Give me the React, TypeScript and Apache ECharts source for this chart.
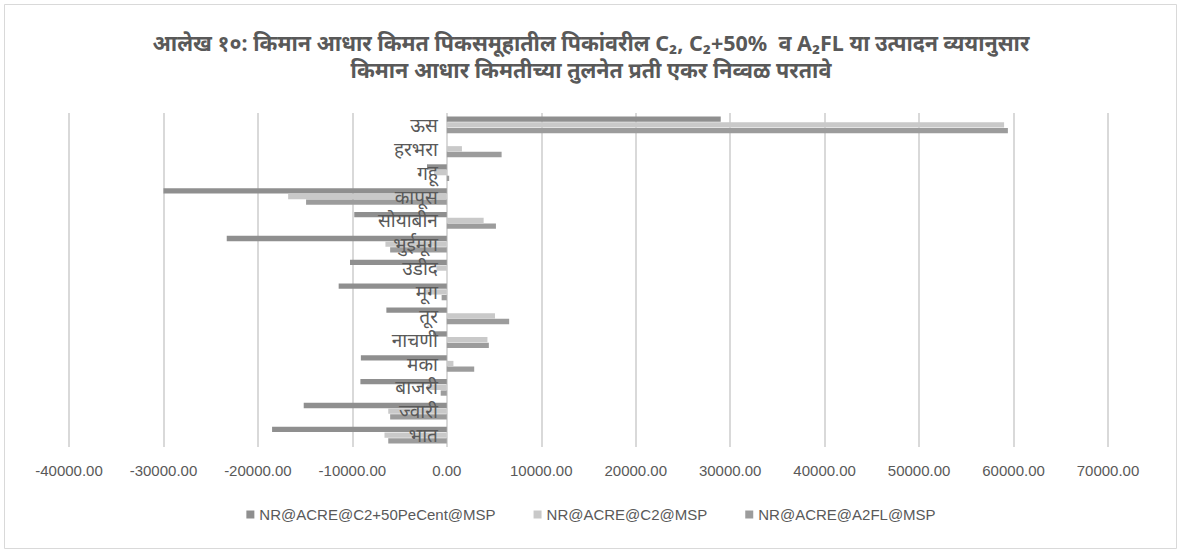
import React, { useEffect, useRef } from "react";
import * as echarts from "echarts";

const categories = ["भात", "ज्वारी", "बाजरी", "मका", "नाचणी", "तूर", "मूग", "उडीद", "भुईमूग", "सोयाबीन", "कापूस", "गहू", "हरभरा", "ऊस"];
const seriesNames = ["NR@ACRE@C2+50PeCent@MSP", "NR@ACRE@C2@MSP", "NR@ACRE@A2FL@MSP"];
const nrC2Plus50 = [-18500, -15150, -9150, -9100, -1450, -6400, -11450, -10250, -23300, -9800, -30000, -2100, 0, 29000];
const nrC2 = [-6600, -6200, -2050, 700, 4300, 5100, -2300, -1100, -6500, 3900, -16800, -1350, 1600, 59000];
const nrA2FL = [-6200, -6000, -650, 2900, 4450, 6600, -550, 0, -6000, 5200, -14900, 250, 5800, 59400];
const xTicks = { min: -40000, max: 70000, interval: 10000 };
const titleLines = [
  "आलेख १०: किमान आधार किमत पिकसमूहातील पिकांवरील C₂, C₂+50%  व A₂FL या उत्पादन व्ययानुसार",
  "किमान आधार किमतीच्या तुलनेत प्रती एकर निव्वळ परतावे",
];
const colors = ["#8f8f8f", "#c9c9c9", "#9c9c9c"];
const GRID_LEFT = 69;

export default function App() {
  const ref = useRef<HTMLDivElement>(null);
  useEffect(() => {
    if (!ref.current) return;
    const chart = echarts.init(ref.current, null, { renderer: "svg" });
    const dataSets = [nrC2Plus50, nrC2, nrA2FL];
    chart.setOption({
      animation: false,
      backgroundColor: "#ffffff",
      color: colors,
      title: {
        text: titleLines.join("\n"),
        left: "center",
        top: 24,
        textStyle: {
          fontFamily: "'Noto Sans', sans-serif",
          fontSize: 21.5,
          fontWeight: "bold",
          color: "#595959",
          lineHeight: 27,
        },
      },
      graphic: [
        {
          type: "rect",
          shape: { x: 4.5, y: 4.5, width: 1172, height: 544 },
          style: { fill: "none", stroke: "#d9d9d9", lineWidth: 1 },
          silent: true,
        },
      ],
      legend: {
        bottom: 28,
        left: "center",
        itemWidth: 8,
        itemHeight: 8,
        itemGap: 38,
        icon: "rect",
        textStyle: { color: "#595959", fontSize: 15, fontFamily: "'Liberation Sans Narrow', sans-serif" },
        data: seriesNames,
      },
      grid: { left: GRID_LEFT, right: 74, top: 113, bottom: 108, containLabel: false },
      xAxis: {
        type: "value",
        min: xTicks.min,
        max: xTicks.max,
        interval: xTicks.interval,
        axisLine: { show: false },
        axisTick: { show: false },
        splitLine: { lineStyle: { color: "#d9d9d9", width: 2 } },
        axisLabel: {
          margin: 16,
          color: "#595959",
          fontSize: 15,
          fontFamily: "'Liberation Sans Narrow', sans-serif",
          formatter: (v: number) => v.toFixed(2),
        },
      },
      yAxis: {
        type: "category",
        data: categories,
        z: 10,
        axisLine: { show: false, onZero: false },
        axisTick: { show: false },
        axisLabel: {
          interval: 0,
          margin: 14,
          color: "#595959",
          fontSize: 19,
          lineHeight: 20,
          fontFamily: "'Noto Sans', sans-serif",
        },
      },
      series: seriesNames.map((name, i) => ({
        name,
        type: "bar",
        data: dataSets[i],
        barCategoryGap: "30%",
        barGap: "8%",
        itemStyle: { color: colors[i] },
      })),
    });
    const zeroX = chart.convertToPixel({ xAxisIndex: 0 }, 0) as number;
    chart.setOption({ yAxis: { offset: -(zeroX - GRID_LEFT) } });
    return () => chart.dispose();
  }, []);
  return (
    <div
      ref={ref}
      style={{ position: "fixed", left: 0, top: 0, width: 1182, height: 555 }}
    />
  );
}
